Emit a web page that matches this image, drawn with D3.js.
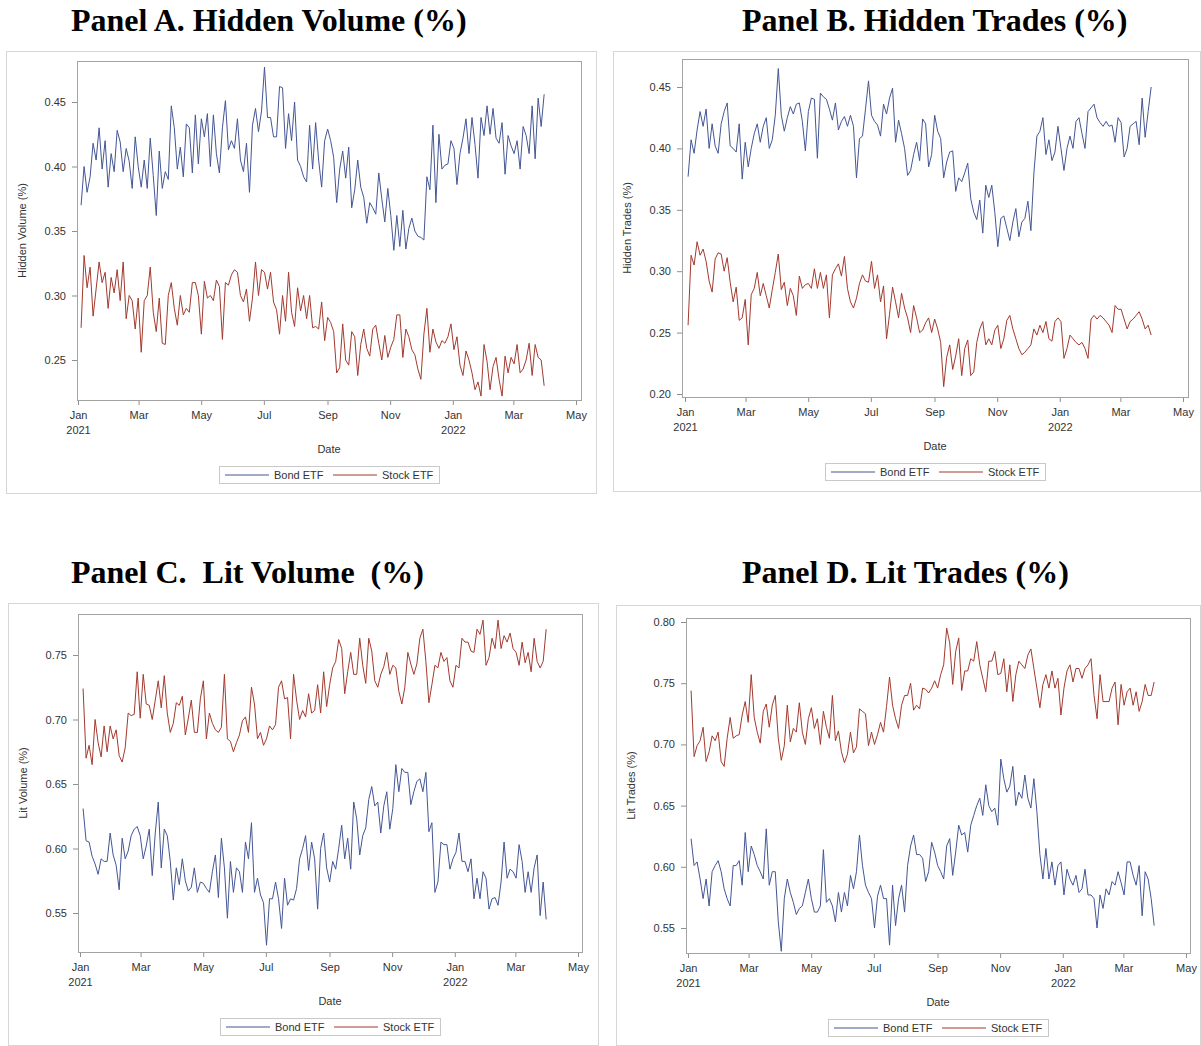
<!DOCTYPE html>
<html>
<head>
<meta charset="utf-8">
<script src="https://cdn.jsdelivr.net/npm/d3@7/dist/d3.min.js"></script>
<style>
    body { margin: 0; background: #fff; }
    svg { display: block; font-family: "Liberation Sans", Arial, sans-serif; }
    .panel-title { font-family: "Liberation Serif", "Times New Roman", serif; font-weight: bold; font-size: 32px; white-space: pre; fill: #000; }
    .axis text { font-size: 11px; fill: #333; }
    .axis line { stroke: #8f8f8f; }
    .axis-title { font-size: 11px; fill: #333; }
    .legend text { font-size: 11px; fill: #333; }
</style>
</head>
<body>
<div id="chart"></div>
<script>
// ---- data ----
const seriesNames = ["Bond ETF", "Stock ETF"];
const firstDay = new Date(2021, 0, 4);
const lastDay = new Date(2022, 2, 31);
const xTickMonths = d3.timeMonth.range(new Date(2021, 0, 1), new Date(2022, 4, 2), 2);

const hiddenVolumeTicks = [0.25, 0.30, 0.35, 0.40, 0.45];
const hiddenTradesTicks = [0.20, 0.25, 0.30, 0.35, 0.40, 0.45];
const litVolumeTicks = [0.55, 0.60, 0.65, 0.70, 0.75];
const litTradesTicks = [0.55, 0.60, 0.65, 0.70, 0.75, 0.80];

const hiddenVolumeBond = [
    .370,.400,.380,.392,.418,.405,.430,.398,.420,.384,.410,.396,.428,.419,.396,.414,.404,.383,.423,.400,
    .384,.405,.383,.422,.393,.362,.412,.383,.396,.390,.447,.430,.398,.415,.392,.433,.430,.395,.440,.402,
    .437,.423,.441,.400,.440,.410,.395,.430,.451,.413,.420,.414,.437,.405,.396,.418,.380,.432,.445,.427,
    .443,.477,.438,.438,.423,.423,.462,.461,.414,.441,.420,.450,.405,.400,.392,.388,.432,.398,.434,.405,
    .384,.420,.429,
    .420,.407,.372,.398,.412,.391,.415,.368,.382,.405,.384,.376,.356,.372,.368,.363,.395,.375,.357,.383,
    .362,.335,.362,.338,.366,.336,.352,.360,.350,.346,.345,.343,.392,.382,.432,.372,.425,.398,.401,.402,
    .420,.414,.386,.410,.422,.437,.410,.438,.417,.391,.438,.424,.447,.425,.445,.422,.418,.434,.394,.424,
    .416,.410,.420,.398,.431,.424,.410,.447,.406,.453,.431,.456
];
const hiddenVolumeStock = [
    .275,.331,.306,.322,.284,.305,.326,.310,.318,.290,.314,.302,.320,.296,.326,.282,.300,.296,.274,.298,
    .256,.296,.300,.322,.287,.272,.298,.263,.262,.300,.310,.290,.277,.300,.285,.290,.287,.310,.310,.300,
    .270,.311,.298,.300,.296,.312,.307,.266,.310,.308,.316,.320,.318,.300,.295,.305,.280,.298,.326,.300,
    .320,.318,.305,.318,.295,.289,.270,.300,.280,.318,.287,.276,.306,.288,.300,.282,.300,.275,.276,.274,
    .295,.265,.283,
    .279,.272,.240,.244,.278,.250,.246,.272,.268,.238,.262,.274,.259,.253,.274,.277,.263,.250,.269,.252,
    .260,.266,.285,.285,.252,.274,.268,.258,.254,.243,.235,.270,.290,.256,.274,.264,.259,.265,.263,.268,
    .278,.258,.268,.246,.238,.257,.250,.240,.227,.233,.222,.262,.249,.227,.245,.252,.235,.222,.253,.240,
    .252,.247,.262,.240,.243,.250,.263,.238,.262,.252,.250,.230
];
const hiddenTradesBond = [
    .377,.407,.396,.415,.430,.418,.432,.400,.420,.402,.396,.420,.430,.437,.402,.400,.397,.420,.375,.405,
    .385,.400,.412,.420,.405,.418,.425,.400,.407,.427,.465,.427,.414,.425,.434,.428,.436,.437,.422,.398,
    .430,.441,.440,.392,.445,.442,.440,.432,.423,.437,.415,.422,.426,.418,.427,.418,.376,.408,.410,.432,
    .455,.427,.422,.419,.410,.436,.428,.441,.449,.405,.423,.412,.400,.378,.382,.395,.405,.390,.424,.420,
    .385,.395,
    .427,.414,.408,.376,.389,.397,.398,.365,.376,.373,.380,.388,.359,.348,.342,.358,.331,.370,.360,.370,
    .348,.320,.343,.345,.335,.325,.340,.351,.328,.340,.343,.357,.333,.380,.410,.414,.425,.395,.407,.390,
    .397,.418,.400,.382,.400,.410,.400,.422,.425,.412,.400,.430,.433,.436,.425,.421,.418,.422,.418,.419,
    .405,.425,.421,.393,.400,.418,.420,.422,.403,.441,.409,.430,.450
];
const hiddenTradesStock = [
    .256,.313,.305,.324,.313,.318,.308,.292,.283,.310,.315,.314,.300,.311,.291,.275,.287,.260,.262,.277,
    .240,.281,.286,.299,.280,.290,.280,.270,.285,.299,.314,.285,.291,.272,.286,.280,.264,.296,.286,.289,
    .290,.286,.302,.286,.299,.286,.297,.262,.297,.302,.306,.296,.312,.286,.275,.270,.278,.290,.297,.292,
    .291,.308,.286,.297,.275,.288,.245,.265,.287,.275,.262,.282,.270,.262,.250,.272,.262,.250,.252,.258,
    .262,.250,
    .261,.253,.242,.206,.230,.240,.220,.231,.245,.215,.237,.244,.215,.218,.242,.253,.259,.240,.245,.240,
    .252,.256,.237,.245,.260,.264,.253,.245,.237,.232,.234,.237,.240,.253,.248,.256,.250,.259,.245,.243,
    .259,.262,.259,.229,.237,.248,.245,.242,.240,.242,.237,.229,.261,.264,.261,.264,.262,.259,.256,.250,
    .272,.269,.269,.261,.253,.259,.261,.264,.267,.261,.253,.256,.248
];
const litVolumeBond = [
    .631,.606,.605,.594,.588,.580,.592,.590,.590,.612,.595,.587,.568,.608,.592,.598,.610,.615,.617,.610,
    .592,.602,.615,.579,.612,.636,.585,.615,.610,.590,.560,.585,.572,.592,.575,.567,.570,.585,.566,.574,
    .573,.569,.566,.582,.595,.562,.608,.585,.546,.590,.566,.585,.582,.566,.605,.592,.620,.566,.577,.564,
    .558,.525,.561,.561,.574,.561,.538,.577,.556,.561,.560,.569,.592,.600,.610,.583,.605,.592,.553,.600,
    .612,.585,
    .574,.590,.584,.600,.618,.592,.608,.584,.636,.623,.595,.610,.616,.638,.648,.633,.636,.612,.633,.644,
    .615,.631,.665,.644,.662,.659,.659,.634,.644,.652,.654,.644,.659,.613,.620,.566,.574,.605,.603,.603,
    .584,.592,.597,.612,.590,.590,.582,.592,.561,.577,.561,.582,.577,.553,.561,.562,.556,.574,.605,.577,
    .584,.582,.577,.603,.590,.566,.582,.566,.585,.595,.548,.574,.545
];
const litVolumeStock = [
    .724,.670,.680,.665,.700,.682,.671,.695,.675,.695,.685,.692,.672,.667,.678,.705,.703,.704,.737,.701,
    .735,.712,.711,.700,.715,.730,.709,.734,.705,.690,.697,.713,.711,.718,.688,.701,.715,.690,.690,.716,
    .730,.685,.705,.697,.692,.690,.694,.735,.685,.683,.675,.682,.688,.699,.702,.690,.725,.712,.685,.690,
    .680,.685,.695,.692,.696,.725,.730,.716,.717,.685,.735,.715,.700,.707,.702,.720,.705,.707,.727,.705,
    .737,.710,
    .727,.740,.745,.762,.755,.720,.737,.752,.735,.735,.763,.742,.728,.763,.753,.730,.725,.735,.741,.752,
    .735,.742,.740,.722,.712,.725,.752,.743,.735,.743,.763,.770,.745,.713,.727,.742,.740,.752,.745,.748,
    .730,.725,.742,.740,.763,.760,.760,.753,.752,.770,.766,.777,.742,.748,.763,.755,.777,.755,.765,.760,
    .767,.755,.752,.742,.760,.744,.752,.737,.763,.745,.740,.745,.770
];
const litTradesBond = [
    .623,.601,.604,.590,.574,.590,.568,.596,.601,.605,.596,.582,.574,.568,.601,.601,.605,.585,.628,.596,
    .617,.610,.601,.596,.590,.631,.585,.596,.596,.555,.531,.574,.590,.579,.571,.561,.566,.568,.579,.590,
    .574,.563,.563,.568,.614,.571,.574,.568,.555,.579,.563,.579,.568,.593,.582,.596,.626,.601,.585,.579,
    .574,.550,.576,.585,.574,.574,.536,.585,.552,.574,.585,.563,.601,.617,.626,.610,.610,.607,.588,.596,
    .620,.612,.601,
    .596,.590,.617,.623,.593,.612,.634,.626,.628,.612,.634,.642,.650,.656,.642,.667,.650,.645,.648,.634,
    .688,.672,.661,.666,.682,.650,.661,.656,.675,.656,.648,.672,.645,.610,.590,.615,.590,.604,.585,.601,
    .604,.577,.598,.590,.585,.593,.579,.582,.598,.577,.577,.574,.550,.577,.566,.582,.577,.588,.585,.596,
    .587,.577,.604,.604,.593,.585,.601,.560,.596,.590,.574,.552
];
const litTradesStock = [
    .744,.690,.699,.703,.714,.686,.694,.707,.703,.710,.686,.682,.705,.722,.705,.707,.708,.724,.735,.718,
    .757,.722,.710,.701,.727,.733,.714,.732,.740,.705,.687,.699,.732,.702,.713,.710,.734,.710,.700,.721,
    .730,.713,.721,.700,.727,.714,.705,.740,.703,.711,.694,.685,.692,.710,.693,.698,.729,.727,.725,.699,
    .710,.700,.708,.718,.710,.731,.755,.732,.721,.713,.732,.740,.740,.750,.728,.732,.729,.746,.745,.742,
    .746,.752,.746,
    .757,.765,.795,.783,.749,.776,.787,.744,.760,.760,.770,.768,.784,.765,.754,.743,.768,.768,.776,.757,
    .758,.770,.743,.765,.735,.757,.768,.765,.762,.773,.778,.762,.746,.730,.749,.757,.746,.760,.746,.754,
    .724,.746,.760,.765,.751,.762,.762,.754,.762,.765,.770,.740,.721,.757,.735,.735,.735,.746,.751,.716,
    .749,.732,.743,.746,.732,.743,.727,.735,.749,.740,.740,.751
];

// ---- layout ----
const colors = ["#445694", "#a23a2e"];

const panelSetup = [
    { title: "Panel A. Hidden Volume (%)", yLabel: "Hidden Volume (%)", bond: hiddenVolumeBond, stock: hiddenVolumeStock,
      yTicks: hiddenVolumeTicks, box: [6, 51, 596, 493], frame: [77, 61, 581, 400], titlePos: [71, 31],
      yAnchor: [[0.25, 0.45], [360, 102]], xAnchor: [78, 576] },
    { title: "Panel B. Hidden Trades (%)", yLabel: "Hidden Trades (%)", bond: hiddenTradesBond, stock: hiddenTradesStock,
      yTicks: hiddenTradesTicks, box: [613, 51, 1200, 491], frame: [682, 59, 1188, 397], titlePos: [742, 31],
      yAnchor: [[0.20, 0.45], [394, 87]], xAnchor: [685, 1183] },
    { title: "Panel C.  Lit Volume  (%)", yLabel: "Lit Volume (%)", bond: litVolumeBond, stock: litVolumeStock,
      yTicks: litVolumeTicks, box: [8, 603, 598, 1045], frame: [78, 614, 582, 952], titlePos: [71, 583],
      yAnchor: [[0.55, 0.75], [913, 655]], xAnchor: [80, 578] },
    { title: "Panel D. Lit Trades (%)", yLabel: "Lit Trades (%)", bond: litTradesBond, stock: litTradesStock,
      yTicks: litTradesTicks, box: [616, 605, 1200, 1045], frame: [686, 618, 1190, 953], titlePos: [742, 583],
      yAnchor: [[0.55, 0.80], [928, 622]], xAnchor: [688, 1186] }
];

class EtfPanel {
    constructor(parent, config) {
        this.parent = parent;
        this.config = config;
        this.initVis();
    }

    initVis() {
        let vis = this;
        let c = vis.config;
        let [fx0, fy0, fx1, fy1] = c.frame;

        vis.g = vis.parent.append("g");

        // outer box + title
        vis.g.append("rect")
            .attr("x", c.box[0] + 0.5).attr("y", c.box[1] + 0.5)
            .attr("width", c.box[2] - c.box[0]).attr("height", c.box[3] - c.box[1])
            .attr("fill", "#fff").attr("stroke", "#d6d6d6");

        vis.g.append("text")
            .attr("class", "panel-title")
            .attr("x", c.titlePos[0]).attr("y", c.titlePos[1])
            .text(c.title);

        vis.x = d3.scaleTime()
            .domain([new Date(2021, 0, 1), new Date(2022, 4, 1)])
            .range(c.xAnchor);
        vis.y = d3.scaleLinear()
            .domain(c.yAnchor[0])
            .range(c.yAnchor[1]);

        vis.frame = { x0: fx0, y0: fy0, x1: fx1, y1: fy1 };

        vis.wrangleData();
    }

    wrangleData() {
        let vis = this;
        let c = vis.config;
        let spread = values => {
            let step = (lastDay - firstDay) / (values.length - 1);
            return values.map((v, i) => ({ date: new Date(+firstDay + i * step), value: v }));
        };
        vis.displayData = [
            { name: seriesNames[0], color: colors[0], points: spread(c.bond) },
            { name: seriesNames[1], color: colors[1], points: spread(c.stock) }
        ];
        vis.updateVis();
    }

    updateVis() {
        let vis = this;
        let c = vis.config;
        let f = vis.frame;

        // y axis
        let yAxis = vis.g.append("g")
            .attr("class", "axis")
            .attr("transform", "translate(" + f.x0 + ",0)")
            .call(d3.axisLeft(vis.y).tickValues(c.yTicks).tickFormat(d3.format(".2f")).tickSize(5).tickPadding(6));
        yAxis.select(".domain").remove();

        // x axis
        let xAxis = vis.g.append("g")
            .attr("class", "axis")
            .attr("transform", "translate(0," + f.y1 + ")")
            .call(d3.axisBottom(vis.x).tickValues(xTickMonths).tickFormat(d3.timeFormat("%b")).tickSize(5).tickPadding(6));
        xAxis.select(".domain").remove();
        xAxis.selectAll(".tick")
            .filter(d => d.getMonth() === 0)
            .append("text")
            .attr("y", 26)
            .attr("dy", "0.71em")
            .attr("fill", "#333")
            .text(d => d.getFullYear());

        // plot frame
        vis.g.append("rect")
            .attr("x", f.x0 + 0.5).attr("y", f.y0 + 0.5)
            .attr("width", f.x1 - f.x0).attr("height", f.y1 - f.y0)
            .attr("fill", "none").attr("stroke", "#a3a3a3");

        // axis titles
        vis.g.append("text")
            .attr("class", "axis-title")
            .attr("text-anchor", "middle")
            .attr("x", (f.x0 + f.x1) / 2).attr("y", f.y1 + 53)
            .text("Date");

        vis.g.append("text")
            .attr("class", "axis-title")
            .attr("text-anchor", "middle")
            .attr("transform", "translate(" + (f.x0 - 51) + "," + ((f.y0 + f.y1) / 2) + ") rotate(-90)")
            .text(c.yLabel);

        // series
        let line = d3.line()
            .x(d => vis.x(d.date))
            .y(d => vis.y(d.value));

        vis.g.append("g")
            .selectAll("path")
            .data(vis.displayData)
            .enter().append("path")
            .attr("d", d => line(d.points))
            .attr("fill", "none")
            .attr("stroke", d => d.color)
            .attr("stroke-width", 1)
            .attr("stroke-linejoin", "round");

        // legend
        let cx = (f.x0 + f.x1) / 2;
        let legend = vis.g.append("g")
            .attr("class", "legend")
            .attr("transform", "translate(" + (cx - 110) + "," + (f.y1 + 66) + ")");
        legend.append("rect")
            .attr("x", 0.5).attr("y", 0.5)
            .attr("width", 220).attr("height", 17)
            .attr("fill", "#fff").attr("stroke", "#c9c9c9");
        let item = legend.selectAll(".item")
            .data(vis.displayData)
            .enter().append("g")
            .attr("class", "item")
            .attr("transform", (d, i) => "translate(" + (6 + i * 108) + ",9)");
        item.append("line")
            .attr("x1", 0).attr("x2", 44)
            .attr("stroke", d => d.color)
            .attr("stroke-width", 1.1);
        item.append("text")
            .attr("x", 49).attr("dy", "0.35em")
            .text(d => d.name);
    }
}

let svg = d3.select("#chart").append("svg")
    .attr("width", 1201)
    .attr("height", 1046);
svg.append("rect").attr("width", 1201).attr("height", 1046).attr("fill", "#fff");

panelSetup.forEach(p => new EtfPanel(svg, p));
</script>
</body>
</html>
